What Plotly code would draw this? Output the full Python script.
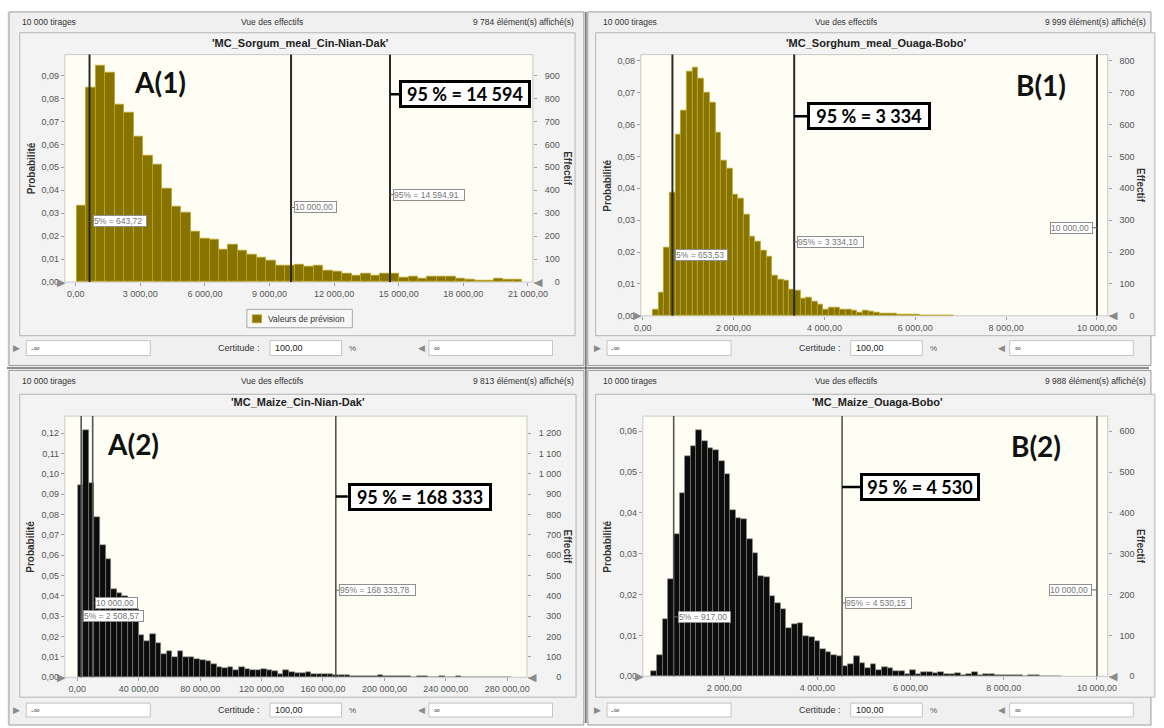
import plotly.graph_objects as go

W, H = 1164, 728
FONT = "Liberation Sans, Arial, sans-serif"
BIG = "Lato, Open Sans, sans-serif"

# ---------------- data ----------------
draws_text = "10 000 tirages"
view_text = "Vue des effectifs"

# A(1) sorghum meal, Cin-Nian-Dak
a1_title = "'MC_Sorgum_meal_Cin-Nian-Dak'"
a1_shown = "9 784 élément(s) affiché(s)"
a1_bin_start = 50
a1_bin_width = 440
a1_prob = [0.0335, 0.0846, 0.0943, 0.0914, 0.0774, 0.0738, 0.0632, 0.0551, 0.0512, 0.0407,
           0.0328, 0.0301, 0.0219, 0.0190, 0.0183, 0.0143, 0.0164, 0.0135, 0.0120, 0.0107,
           0.0093, 0.0072, 0.0071, 0.0077, 0.0067, 0.0071, 0.0049, 0.0045, 0.0038, 0.0029,
           0.0036, 0.0026, 0.0038, 0.0035, 0.0019, 0.0022, 0.0014, 0.0022, 0.0022, 0.0025,
           0.0014, 0.0012, 0.0007, 0.0007, 0.0017, 0.0009, 0.0012]
a1_p5, a1_ref, a1_p95 = 643.72, 10000.00, 14594.91
a1_p5_text, a1_ref_text, a1_p95_text = "5% = 643,72", "10 000,00", "95% = 14 594,91"
a1_big_text = "95 % = 14 594"
a1_xticks = [0, 3000, 6000, 9000, 12000, 15000, 18000, 21000]
a1_yticks = [0, 0.01, 0.02, 0.03, 0.04, 0.05, 0.06, 0.07, 0.08, 0.09]
a1_cticks = [0, 100, 200, 300, 400, 500, 600, 700, 800, 900]

# B(1) sorghum meal, Ouaga-Bobo
b1_title = "'MC_Sorghum_meal_Ouaga-Bobo'"
b1_shown = "9 999 élément(s) affiché(s)"
b1_bin_start = 222
b1_bin_width = 125
b1_prob = [0.0018, 0.0073, 0.0215, 0.0387, 0.0568, 0.0644, 0.0766, 0.0777, 0.0745, 0.0699,
           0.0670, 0.0574, 0.0488, 0.0462, 0.0379, 0.0367, 0.0317, 0.0249, 0.0232, 0.0205,
           0.0185, 0.0125, 0.0115, 0.0111, 0.0083, 0.0078, 0.0055, 0.0057, 0.0044, 0.0036,
           0.0021, 0.0026, 0.0026, 0.0021, 0.0021, 0.0016, 0.0010, 0.0016, 0.0013, 0.0010,
           0.0007, 0.0006, 0.0006, 0.0005, 0.0005, 0.0004, 0.0003, 0.0002, 0.0002, 0.0001,
           0.0002, 0.0001, 0.0001]
b1_p5, b1_p95, b1_ref = 653.53, 3334.10, 10000.00
b1_p5_text, b1_p95_text, b1_ref_text = "5% = 653,53", "95% = 3 334,10", "10 000,00"
b1_big_text = "95 % = 3 334"
b1_xticks = [0, 2000, 4000, 6000, 8000, 10000]
b1_yticks = [0, 0.01, 0.02, 0.03, 0.04, 0.05, 0.06, 0.07, 0.08]
b1_cticks = [0, 100, 200, 300, 400, 500, 600, 700, 800]

# A(2) maize, Cin-Nian-Dak
a2_title = "'MC_Maize_Cin-Nian-Dak'"
a2_shown = "9 813 élément(s) affiché(s)"
a2_bin_start = 200
a2_bin_width = 3620
a2_prob = [0.0945, 0.1214, 0.0955, 0.0787, 0.0649, 0.0580, 0.0435, 0.0414, 0.0398, 0.0390,
           0.0333, 0.0208, 0.0179, 0.0211, 0.0167, 0.0114, 0.0130, 0.0101, 0.0127, 0.0097,
           0.0097, 0.0089, 0.0084, 0.0078, 0.0065, 0.0049, 0.0044, 0.0049, 0.0036, 0.0049,
           0.0041, 0.0036, 0.0037, 0.0041, 0.0037, 0.0029, 0.0016, 0.0036, 0.0024, 0.0019,
           0.0023, 0.0024, 0.0016, 0.0015, 0.0016, 0.0014, 0.0012, 0.0009, 0.0011, 0.0007,
           0.0008, 0.0006, 0.0005, 0.0006, 0.0009, 0.0005, 0.0004, 0.0005, 0.0004, 0.0006,
           0.0003, 0.0004, 0.0005, 0.0003, 0.0003, 0.0004, 0.0002, 0.0003, 0.0004, 0.0002,
           0.0003, 0.0002, 0.0003, 0.0002, 0.0002, 0.0002, 0.0001, 0.0002]
a2_p5, a2_ref, a2_p95 = 2508.57, 10000.00, 168333.78
a2_p5_text, a2_ref_text, a2_p95_text = "5% = 2 508,57", "10 000,00", "95% = 168 333,78"
a2_big_text = "95 % = 168 333"
a2_xticks = [0, 40000, 80000, 120000, 160000, 200000, 240000, 280000]
a2_yticks = [0, 0.01, 0.02, 0.03, 0.04, 0.05, 0.06, 0.07, 0.08, 0.09, 0.10, 0.11, 0.12]
a2_cticks = [0, 100, 200, 300, 400, 500, 600, 700, 800, 900, 1000, 1100, 1200]

# B(2) maize, Ouaga-Bobo
b2_title = "'MC_Maize_Ouaga-Bobo'"
b2_shown = "9 988 élément(s) affiché(s)"
b2_bin_start = 434
b2_bin_width = 120.7
b2_prob = [0.0012, 0.0051, 0.0140, 0.0239, 0.0348, 0.0448, 0.0539, 0.0563, 0.0603, 0.0575,
           0.0558, 0.0553, 0.0527, 0.0495, 0.0406, 0.0388, 0.0386, 0.0337, 0.0301, 0.0245,
           0.0242, 0.0196, 0.0178, 0.0164, 0.0118, 0.0129, 0.0130, 0.0098, 0.0095, 0.0085,
           0.0067, 0.0059, 0.0051, 0.0049, 0.0025, 0.0031, 0.0049, 0.0033, 0.0021, 0.0031,
           0.0016, 0.0023, 0.0021, 0.0012, 0.0012, 0.0006, 0.0015, 0.0006, 0.0010, 0.0011,
           0.0008, 0.0010, 0.0006, 0.0005, 0.0009, 0.0004, 0.0006, 0.0010, 0.0003, 0.0005,
           0.0006, 0.0002, 0.0004, 0.0002, 0.0003, 0.0002, 0.0001, 0.0002, 0.0002, 0.0001,
           0.0001, 0.0000, 0.0001]
b2_p5, b2_p95, b2_ref = 917.00, 4530.15, 10000.00
b2_p5_text, b2_p95_text, b2_ref_text = "5% = 917,00", "95% = 4 530,15", "10 000,00"
b2_big_text = "95 % = 4 530"
b2_xticks = [2000, 4000, 6000, 8000, 10000]
b2_yticks = [0, 0.01, 0.02, 0.03, 0.04, 0.05, 0.06]
b2_cticks = [0, 100, 200, 300, 400, 500, 600]

n_draws = 10000
legend_name = "Valeurs de prévision"
cert_label = "Certitude :"
cert_value = "100,00"

# ---------------- layout helpers ----------------
def X(p):
    return p / W


def Y(p):
    return 1 - p / H


shapes = []
annotations = []


def rect(x0, y0, x1, y1, fill, line, lw=1, layer="below"):
    shapes.append(dict(type="rect", xref="paper", yref="paper",
                       x0=X(x0), x1=X(x1), y0=Y(y1), y1=Y(y0),
                       fillcolor=fill, line=dict(color=line, width=lw), layer=layer))


def text(x, y, s, size=9, color="#333", anchor="left", family=FONT, angle=0):
    annotations.append(dict(xref="paper", yref="paper", x=X(x), y=Y(y), text=s,
                            showarrow=False, xanchor=anchor, yanchor="middle",
                            font=dict(size=size, color=color, family=family),
                            textangle=angle))


def count_labels(vals):
    # thousands separated by a space, padded on the left so that labels line up on the right
    raw = [f"{v:,d}".replace(",", " ") for v in vals]
    nd = [sum(c.isdigit() for c in s) for s in raw]
    ns = [s.count(" ") for s in raw]
    md, ms = max(nd), max(ns)
    return ["\u2007" * (md - d) + "\u2008" * (ms - sp) + s for s, d, sp in zip(raw, nd, ns)]


# window chrome
rect(0, 0, W, H, "#f0f0f0", "#f0f0f0", 0)
rect(0, 0, W, 12, "#ffffff", "#ffffff", 0)
wins = [(2, 12, 588, 368), (592, 12, 1166, 368), (2, 373, 588, 730), (592, 373, 1166, 730)]
for w in wins:
    rect(*w, "#f0f0f0", "#9a9a9a", 1)
shapes.append(dict(type="line", xref="paper", yref="paper", x0=X(590), x1=X(590), y0=0, y1=Y(12),
                   line=dict(color="#6e6e6e", width=1.5)))
shapes.append(dict(type="line", xref="paper", yref="paper", x0=0, x1=1, y0=Y(370.5), y1=Y(370.5),
                   line=dict(color="#6e6e6e", width=1.5)))

panels = [
    dict(prob=a1_prob, start=a1_bin_start, width=a1_bin_width, title=a1_title, shown=a1_shown,
         xticks=a1_xticks, yticks=a1_yticks, cticks=a1_cticks,
         plot=(59, 55, 536, 284), xr=(-501, 21228), ymax=0.0991,
         box=(13, 33, 579, 338), top=12, left=0, ctrl=(343, 358),
         color="#877300", edge="#bba626", edgew=0.8, vcol="#2a2a2a", vw=2,
         small=[(a1_p5, 0.0265, a1_p5_text, "left", 3, 52),
                (a1_ref, 0.0325, a1_ref_text, "left", 3, 41),
                (a1_p95, 0.0381, a1_p95_text, "left", 3, 70)],
         big=(a1_p95, 0.0818, a1_big_text, 9, 126),
         lines=[a1_p5, a1_ref, a1_p95],
         label=("A(1)", 156, 82.5), legend=True),
    dict(prob=b1_prob, start=b1_bin_start, width=b1_bin_width, title=b1_title, shown=b1_shown,
         xticks=b1_xticks, yticks=b1_yticks, cticks=b1_cticks,
         plot=(646, 55, 1122, 318), xr=(-43, 10238), ymax=0.0819,
         box=(600, 33, 1170, 338), top=12, left=592, ctrl=(343, 358),
         color="#877300", edge="#bba626", edgew=0.8, vcol="#2a2a2a", vw=2,
         small=[(b1_p5, 0.0192, b1_p5_text, "left", 3, 51),
                (b1_p95, 0.0232, b1_p95_text, "left", 3, 65),
                (b1_ref, 0.0276, b1_ref_text, "right", -4, 41)],
         big=(b1_p95, 0.0626, b1_big_text, 13, 118),
         lines=[b1_p5, b1_p95, b1_ref],
         label=("B(1)", 1054, 86), legend=False),
    dict(prob=a2_prob, start=a2_bin_start, width=a2_bin_width, title=a2_title, shown=a2_shown,
         xticks=a2_xticks, yticks=a2_yticks, cticks=a2_cticks,
         plot=(59, 419, 530, 682), xr=(-8100, 292850), ymax=0.1283,
         box=(13, 397, 580, 702), top=373, left=0, ctrl=(708, 722),
         color="#0c0c0c", edge="#8c8c8c", edgew=0.5, vcol="#555555", vw=1.6,
         small=[(a2_ref, 0.0364, a2_ref_text, "left", 2, 41),
                (a2_p5, 0.0299, a2_p5_text, "left", 2, 59),
                (a2_p95, 0.0428, a2_p95_text, "left", 3, 75)],
         big=(a2_p95, 0.0888, a2_big_text, 12, 138),
         lines=[a2_p5, a2_ref, a2_p95],
         label=("A(2)", 128, 447.5), legend=False),
    dict(prob=b2_prob, start=b2_bin_start, width=b2_bin_width, title=b2_title, shown=b2_shown,
         xticks=b2_xticks, yticks=b2_yticks, cticks=b2_cticks,
         plot=(648, 419, 1122, 681), xr=(253, 10232), ymax=0.0637,
         box=(600, 397, 1170, 702), top=373, left=592, ctrl=(708, 722),
         color="#0c0c0c", edge="#8c8c8c", edgew=0.5, vcol="#555555", vw=1.6,
         small=[(b2_p5, 0.01458, b2_p5_text, "left", 4, 51),
                (b2_p95, 0.01797, b2_p95_text, "left", 3, 65),
                (b2_ref, 0.02115, b2_ref_text, "right", -5, 41)],
         big=(b2_p95, 0.04634, b2_big_text, 18, 114),
         lines=[b2_p5, b2_p95, b2_ref],
         label=("B(2)", 1049, 449), legend=False),
]

fig = go.Figure()
layout = {}

for i, p in enumerate(panels, start=1):
    xs = "" if i == 1 else str(i)
    xname, yname, rname = f"x{xs}", f"y{xs}", f"y{i + 4}"
    px0, py0, px1, py1 = p["plot"]
    L, T = p["left"], p["top"]

    # inner box and input controls
    rect(*p["box"], "#f3f3f3", "#b4b4b4", 1)
    c0, c1 = p["ctrl"]
    cy = (c0 + c1) / 2
    rect(L + 19.6, c0, L + 146, c1, "#ffffff", "#c4c4c4", 1)
    rect(L + 268, c0, L + 341, c1, "#ffffff", "#c4c4c4", 1)
    rect(L + 430, c0, L + 556, c1, "#ffffff", "#c4c4c4", 1)
    text(L + 9.5, cy, "▶", 9, "#8a8a8a", "center", "DejaVu Sans")
    text(L + 22, cy, "-∞", 8, "#444")
    text(L + 260, cy, cert_label, 9, "#333", "right")
    text(L + 271, cy, cert_value, 9, "#222")
    text(L + 352, cy, "%", 8, "#555", "center")
    text(L + 422, cy, "◀", 9, "#8a8a8a", "center", "DejaVu Sans")
    text(L + 433, cy, "∞", 8, "#444")

    # header and title
    text(L + 13, T + 10.5, draws_text, 8.5, "#333")
    text(L + 270 if L == 0 else L + 263, T + 10.5, view_text, 8.5, "#333", "center")
    text(L + 580 if L == 0 else 1163, T + 10.5, p["shown"], 8.5, "#333", "right")
    text((px0 + px1) / 2 + 2, T + 31.5, f"<b>{p['title']}</b>", 11, "#222", "center")

    # plot background
    rect(px0, py0, px1, py1, "#fffef4", "#c8c8c8", 1)

    # axis titles
    ymid = (py0 + py1) / 2
    text(L + 24.5 if L == 0 else L + 20, ymid, "<b>Probabilité</b>", 10, "#333", "center", angle=-90)
    text(L + 571 if L == 0 else 1156, ymid, "<b>Effectif</b>", 10, "#333", "center", angle=90)

    # certainty grabbers on the axis
    text(px0 - 3, py1, "▶", 11, "#8a8a8a", "center", "DejaVu Sans")
    text(px1 + 6, py1, "◀", 11, "#8a8a8a", "center", "DejaVu Sans")

    centers = [p["start"] + p["width"] * (k + 0.5) for k in range(len(p["prob"]))]
    counts = [v * n_draws for v in p["prob"]]
    fig.add_trace(go.Bar(x=centers, y=p["prob"], width=p["width"], xaxis=xname, yaxis=yname,
                         marker=dict(color=p["color"], line=dict(color=p["edge"], width=p["edgew"])),
                         name=legend_name, showlegend=False, hoverinfo="skip"))
    fig.add_trace(go.Scatter(x=centers, y=counts, xaxis=xname, yaxis=rname, mode="markers",
                             marker=dict(size=1, opacity=0), showlegend=False, hoverinfo="skip"))

    tick = dict(ticks="outside", ticklen=3, tickcolor="#a0a0a0",
                tickfont=dict(size=9, color="#555", family=FONT),
                showgrid=False, zeroline=False, showline=False, fixedrange=True)
    layout[f"xaxis{xs}"] = dict(domain=[X(px0), X(px1)], anchor=yname, range=list(p["xr"]),
                                tickvals=p["xticks"], tickformat=",.2f", **tick)
    layout[f"yaxis{xs}"] = dict(domain=[Y(py1), Y(py0)], anchor=xname, range=[0, p["ymax"]],
                                tickvals=p["yticks"], tickformat=".2f", **tick)
    layout[f"yaxis{i + 4}"] = dict(overlaying=yname, anchor=xname, side="right",
                                   range=[0, p["ymax"] * n_draws], tickmode="array",
                                   tickvals=p["cticks"], ticktext=count_labels(p["cticks"]),
                                   ticklabelstandoff=6, **tick)

    # percentile / reference lines
    for v in p["lines"]:
        shapes.append(dict(type="line", xref=xname, yref=f"{yname} domain", x0=v, x1=v, y0=0, y1=1,
                           line=dict(color=p["vcol"], width=p["vw"]), layer="above"))

    # small value boxes
    for v, yv, s, side, shift, wdt in p["small"]:
        shapes.append(dict(type="line", xref=xname, yref=yname, xsizemode="pixel", xanchor=v,
                           x0=0, x1=shift, y0=yv, y1=yv, line=dict(color="#666", width=1)))
        annotations.append(dict(xref=xname, yref=yname, x=v, y=yv, text=s, showarrow=False,
                                xanchor=side, yanchor="middle", xshift=shift, width=wdt, align="left",
                                font=dict(size=8.5, color="#777", family=FONT), bgcolor="#ffffff",
                                bordercolor="#8f8f8f", borderwidth=1, borderpad=0))

    # big highlighted box
    v, yv, s, shift, wdt = p["big"]
    shapes.append(dict(type="line", xref=xname, yref=yname, xsizemode="pixel", xanchor=v,
                       x0=0, x1=shift, y0=yv, y1=yv, line=dict(color="#000", width=2.5)))
    annotations.append(dict(xref=xname, yref=yname, x=v, y=yv, text=f"<b>{s}</b>", showarrow=False,
                            xanchor="left", yanchor="middle", xshift=shift, width=wdt, align="center",
                            font=dict(size=18, color="#000", family=BIG), bgcolor="#ffffff",
                            bordercolor="#000", borderwidth=3, borderpad=0))

    lab, lx, ly = p["label"]
    text(lx, ly, f"<b>{lab}</b>", 28, "#111", "center", BIG)

    # legend box (first panel only)
    if p["legend"]:
        rect(244.5, 311.5, 352, 330, "#f7f7f7", "#a8a8a8", 1, "above")
        rect(250, 317, 259.5, 325, p["color"], p["edge"], 0.8, "above")
        text(264, 321, legend_name, 8.5, "#333")

layout.update(dict(
    width=W, height=H, margin=dict(l=0, r=0, t=0, b=0),
    paper_bgcolor="#ffffff", plot_bgcolor="rgba(0,0,0,0)",
    separators=", ", bargap=0, showlegend=False,
    shapes=shapes, annotations=annotations,
    font=dict(family=FONT),
))
fig.update_layout(**layout)
fig.write_html("out.html", config={"displayModeBar": False},
               post_script="document.body.style.margin='0';document.body.style.overflow='hidden';")
